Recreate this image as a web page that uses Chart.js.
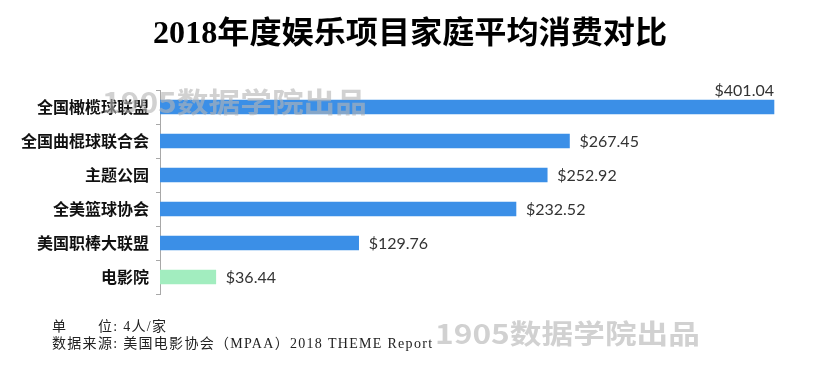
<!DOCTYPE html>
<html>
<head>
<meta charset="utf-8">
<script src="https://cdn.jsdelivr.net/npm/chart.js@4.4.1/dist/chart.umd.min.js"></script>
<style>
  html, body { margin: 0; padding: 0; background: #ffffff; }
  #wrap { width: 815px; height: 375px; position: relative; }
</style>
</head>
<body>
<div id="wrap"><canvas id="c" width="815" height="375"></canvas></div>
<script>
// ---- data ----
const categories = ['全国橄榄球联盟', '全国曲棍球联合会', '主题公园', '全美篮球协会', '美国职棒大联盟', '电影院'];
const values = [401.04, 267.45, 252.92, 232.52, 129.76, 36.44];
const valueLabels = ['$401.04', '$267.45', '$252.92', '$232.52', '$129.76', '$36.44'];
const titleText = '2018年度娱乐项目家庭平均消费对比';
const footerLines = ['单　　位: 4人/家', '数据来源: 美国电影协会（MPAA）2018 THEME Report'];
const watermarkText = '1905数据学院出品';

// ---- styles ----
const barColors = ['#3b8fe7', '#3b8fe7', '#3b8fe7', '#3b8fe7', '#3b8fe7', '#a2edbf'];

const decorPlugin = {
  id: 'decor',
  afterDatasetsDraw(chart) {
    const ctx = chart.ctx;
    const meta = chart.getDatasetMeta(0);
    ctx.save();
    // value labels
    ctx.font = '16px Lato, "Open Sans", sans-serif';
    ctx.fillStyle = '#333333';
    meta.data.forEach((bar, i) => {
      if (i === 0) {
        ctx.textAlign = 'right';
        ctx.textBaseline = 'alphabetic';
        ctx.fillText(valueLabels[i], bar.x, bar.y - 11);
      } else {
        ctx.textAlign = 'left';
        ctx.textBaseline = 'middle';
        ctx.fillText(valueLabels[i], bar.x + 10, bar.y + 1);
      }
    });
    ctx.restore();
  },
  afterDraw(chart) {
    const ctx = chart.ctx;
    ctx.save();
    // title (fitted to the reference's width)
    ctx.font = 'bold 30px "Liberation Serif", "Noto Sans CJK SC", serif';
    ctx.fillStyle = '#000000';
    ctx.textAlign = 'center';
    ctx.textBaseline = 'middle';
    const tw = ctx.measureText(titleText).width;
    ctx.save();
    ctx.translate(410, 35);
    ctx.scale(514 / tw, 1.04);
    ctx.fillText(titleText, 0, 0);
    ctx.restore();
    // footer
    ctx.font = '14px "Liberation Serif", "Noto Sans CJK SC", serif';
    ctx.letterSpacing = '1.3px';
    ctx.fillStyle = '#222222';
    ctx.textAlign = 'left';
    ctx.textBaseline = 'middle';
    ctx.fillText(footerLines[0], 52, 327);
    ctx.fillText(footerLines[1], 52, 344);
    ctx.letterSpacing = '0px';
    // watermarks
    const drawMark = (x, y, w, h) => {
      ctx.save();
      ctx.font = 'bold ' + h + 'px "Noto Sans CJK SC", sans-serif';
      ctx.textBaseline = 'middle';
      ctx.textAlign = 'left';
      const mw = ctx.measureText(watermarkText).width;
      ctx.translate(x, y);
      ctx.scale(w / mw, 1);
      ctx.fillStyle = 'rgba(180,180,180,0.62)';
      ctx.fillText(watermarkText, 0, 0);
      ctx.restore();
    };
    drawMark(102, 102, 265, 28);
    drawMark(435, 334, 265, 27);
    ctx.restore();
  }
};

new Chart(document.getElementById('c'), {
  type: 'bar',
  data: {
    labels: categories,
    datasets: [{
      data: values,
      backgroundColor: barColors,
      borderWidth: 0,
      barThickness: 14
    }]
  },
  options: {
    indexAxis: 'y',
    responsive: false,
    animation: false,
    devicePixelRatio: 1,
    layout: { padding: { top: 90, bottom: 81, left: 0, right: 12 } },
    plugins: { legend: { display: false }, tooltip: { enabled: false }, title: { display: false } },
    scales: {
      x: { display: false, min: 0, max: 420 },
      y: {
        offset: true,
        afterFit(scale) { scale.width = 160; },
        border: { display: true, color: '#a8a8a8', width: 1 },
        grid: { display: true, drawOnChartArea: false, drawTicks: true, tickLength: 4, color: '#a8a8a8', offset: true },
        ticks: {
          padding: 7,
          color: '#111111',
          font: { family: '"Noto Sans CJK SC", sans-serif', size: 16, weight: 'bold' }
        }
      }
    }
  },
  plugins: [decorPlugin]
});
</script>
</body>
</html>
